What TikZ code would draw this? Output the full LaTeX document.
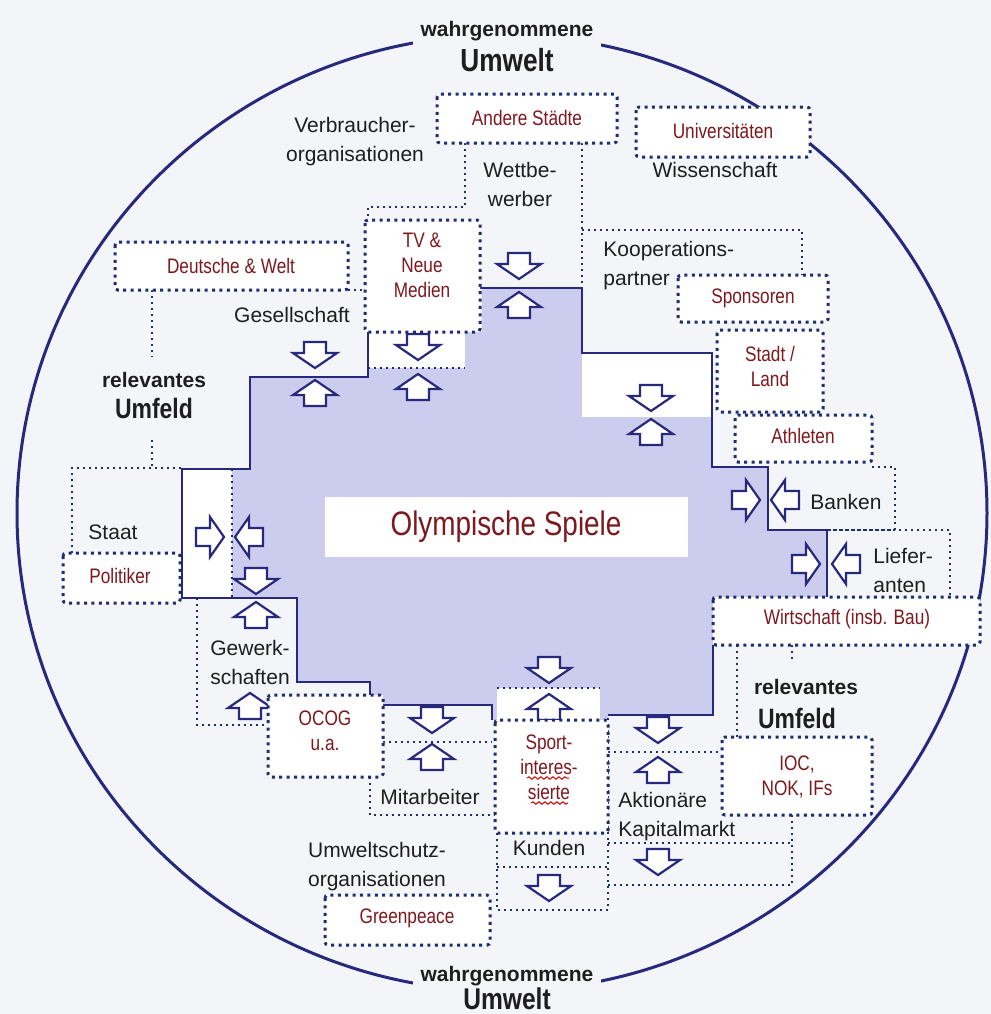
\documentclass[tikz,border=0pt]{standalone}
\usepackage{fontspec}
\setmainfont{Liberation Sans}
\newfontfamily\narrowsf{Liberation Sans}[FakeStretch=0.82]
\usetikzlibrary{positioning,decorations.pathmorphing}

\definecolor{navy}{RGB}{40,40,125}
\definecolor{dotblue}{RGB}{30,45,110}
\definecolor{labred}{RGB}{125,25,30}
\definecolor{lav}{RGB}{204,204,238}
\definecolor{paper}{RGB}{244,245,249}
\definecolor{ink}{RGB}{30,30,30}

\begin{document}
\begin{tikzpicture}[
  x=0.5pt, y=-0.5pt,
  lab/.style={font=\fontsize{10.5}{14.5}\selectfont, text=ink, align=center, inner sep=0pt},
  redlab/.style={font=\narrowsf\fontsize{10.5}{12.5}\selectfont, text=labred, align=center, inner sep=0pt},
  outer/.style={font=\bfseries\fontsize{10.5}{12}\selectfont, text=ink, fill=paper, inner xsep=4pt, inner ysep=3pt},
  bigword/.style={font=\narrowsf\bfseries\fontsize{14}{16}\selectfont, text=ink, inner sep=1pt},
  edgeline/.style={draw=navy, line width=1.3pt},
  thindots/.style={draw=dotblue, line width=1pt, dash pattern=on 1pt off 2pt},
  boxdots/.style={draw=dotblue, line width=1.5pt, dash pattern=on 1.5pt off 2.2pt, fill=white, rounded corners=1.5pt},
  arrowline/.style={draw=navy, fill=white, line width=1.1pt, line join=miter},
  dnarr/.pic={\path[arrowline] (-11,-13) -- (11,-13) -- (11,-2) -- (22,-2) -- (0,13)
    -- (-22,-2) -- (-11,-2) -- cycle;},
  uparr/.pic={\path[arrowline] (-11,13) -- (11,13) -- (11,2) -- (22,2) -- (0,-13)
    -- (-22,2) -- (-11,2) -- cycle;},
  rtarr/.pic={\path[arrowline] (-14,-9) -- (0,-9) -- (0,-20) -- (14,0) -- (0,20)
    -- (0,9) -- (-14,9) -- cycle;},
  ltarr/.pic={\path[arrowline] (14,-9) -- (0,-9) -- (0,-20) -- (-14,0) -- (0,20)
    -- (0,9) -- (14,9) -- cycle;}
]

% page and frame
\fill[paper] (0,0) rectangle (991,1014);
\draw[navy, line width=1.5pt] (502,513) ellipse [x radius=485, y radius=478];

% shaded core
\fill[lav] (482,288) -- (582,288) -- (582,417) -- (712,417) -- (712,467) -- (768,467)
  -- (768,530) -- (827,530) -- (827,620) -- (713,620) -- (713,715) -- (608,715)
  -- (608,720) -- (492,720) -- (492,705) -- (383,705) -- (383,695) -- (370,695)
  -- (370,682) -- (297,682) -- (297,598) -- (182,598) -- (182,469) -- (250,469)
  -- (250,377) -- (368,377) -- (368,332) -- (482,332) -- cycle;
\fill[white] (582,353) rectangle (712,417);
\fill[white] (368,332) rectangle (465,368);
\fill[white] (182,469) rectangle (232,598);
\fill[white] (497,688) rectangle (600,720);
\fill[white] (325,497) rectangle (688,557);

% region borders
\draw[edgeline] (368,332) -- (368,377) -- (250,377) -- (250,469) -- (182,469) -- (182,598)
  -- (297,598) -- (297,682) -- (370,682) -- (370,695);
\draw[edgeline] (383,705) -- (492,705) -- (492,720);
\draw[edgeline] (608,715) -- (713,715) -- (713,645);
\draw[edgeline] (827,597) -- (827,530) -- (768,530) -- (768,467) -- (712,467) -- (712,353)
  -- (582,353) -- (582,288) -- (480,288);

\draw[thindots] (465,143) -- (465,207) -- (368,207) -- (368,220);
\draw[thindots] (582,143) -- (582,288);
\draw[thindots] (582,230) -- (802,230) -- (802,275);
\draw[thindots] (348,290) -- (365,290);
\draw[thindots] (152,290) -- (152,357);
\draw[thindots] (152,440) -- (152,468);
\draw[thindots] (72,553) -- (72,468) -- (182,468);
\draw[thindots] (368,368) -- (465,368);
\draw[thindots] (232,469) -- (232,598);
\draw[thindots] (197,598) -- (197,725) -- (268,725);
\draw[thindots] (383,742) -- (492,742);
\draw[thindots] (370,777) -- (370,815) -- (495,815);
\draw[thindots] (497,688) -- (600,688);
\draw[thindots] (497,833) -- (497,910) -- (608,910) -- (608,715);
\draw[thindots] (497,867) -- (608,867);
\draw[thindots] (608,752) -- (722,752);
\draw[thindots] (608,843) -- (792,843);
\draw[thindots] (792,815) -- (792,885) -- (608,885);
\draw[thindots] (737,645) -- (737,737);
\draw[thindots] (792,645) -- (792,662);
\draw[thindots] (872,467) -- (895,467) -- (895,530) -- (827,530);
\draw[thindots] (827,530) -- (950,530) -- (950,597);

% exchange arrows
\pic (dGes) at (315,355) {dnarr};
\pic (uGes) at (315,393) {uparr};
\pic (dTV) at (418,347) {dnarr};
\pic (uTV) at (418,387) {uparr};
\pic (dWet) at (519,266) {dnarr};
\pic (uWet) at (519,305) {uparr};
\pic (dKoop) at (651,398) {dnarr};
\pic (uKoop) at (651,432) {uparr};
\pic (rBank) at (746,500) {rtarr};
\pic (lBank) at (785,500) {ltarr};
\pic (rLief) at (806,564) {rtarr};
\pic (lLief) at (846,564) {ltarr};
\pic (rStaat) at (210,537) {rtarr};
\pic (lStaat) at (249,537) {ltarr};
\pic (dGew) at (256,581) {dnarr};
\pic (uGew) at (256,615) {uparr};
\pic (uGew2) at (250,706) {uparr};
\pic (dMit) at (432,720) {dnarr};
\pic (uMit) at (432,757) {uparr};
\pic (dSport) at (549,670) {dnarr};
\pic (uSport) at (549,707) {uparr};
\pic (dKund) at (549,888) {dnarr};
\pic (dAkt) at (658,730) {dnarr};
\pic (uAkt) at (658,770) {uparr};
\pic (dKap) at (658,862) {dnarr};

% stakeholder boxes
\draw[boxdots] (437,94) rectangle (617,143);
\draw[boxdots] (636,107) rectangle (810,157);
\draw[boxdots] (115,242) rectangle (348,290);
\draw[boxdots] (365,220) rectangle (480,332);
\draw[boxdots] (678,275) rectangle (828,322);
\draw[boxdots] (717,330) rectangle (823,412);
\draw[boxdots] (735,415) rectangle (872,462);
\draw[boxdots] (713,597) rectangle (980,645);
\draw[boxdots] (722,737) rectangle (872,815);
\draw[boxdots] (495,720) rectangle (608,833);
\draw[boxdots] (325,895) rectangle (490,945);
\draw[boxdots] (268,695) rectangle (383,777);
\draw[boxdots] (63,553) rectangle (180,603);

\node[redlab] (andere) at (527,118) {Andere Städte};
\node[redlab] (uni) at (723,131) {Universitäten};
\node[redlab] (deutsche) at (231,266) {Deutsche \& Welt};
\node[redlab] (tv) at (422,265) {TV \&\\Neue\\Medien};
\node[redlab] (sponsoren) at (753,298) {Sponsoren};
\node[redlab] (stadt) at (770,366) {Stadt /\\Land};
\node[redlab] (athleten) at (803,436) {Athleten};
\node[redlab] (wirtschaft) at (847,619) {Wirtschaft (insb. Bau)};
\node[redlab] (ioc) at (797,777) {IOC,\\NOK, IFs};
\node[redlab] (sport) at (549,767) {Sport-\\interes-\\sierte};
\node[redlab] (greenpeace) at (407,918) {Greenpeace};
\node[redlab] (ocog) at (325,731) {OCOG\\u.a.};
\node[redlab] (politiker) at (120,576) {Politiker};
\draw[red!85!black, line width=0.5pt, decorate, decoration={snake, amplitude=0.6pt, segment length=3pt}]
  (527,778) -- (569,778);
\draw[red!85!black, line width=0.5pt, decorate, decoration={snake, amplitude=0.6pt, segment length=3pt}]
  (531,803) -- (568,803);

\node[font=\narrowsf\fontsize{17}{19}\selectfont, text=labred] (olymp) at (506,527) {Olympische Spiele};

% group labels
\node[lab] (verbraucher) at (355,142) {Verbraucher-\\organisationen};
\node[lab] (wettbewerber) at (520,184) {Wettbe-\\werber};
\node[lab] (wissenschaft) at (715,170) {Wissenschaft};
\node[lab, align=left, anchor=west] (koop) at (603,266) {Kooperations-\\partner};
\node[lab] (gesellschaft) at (292,315) {Gesellschaft};
\node[lab] (staat) at (113,532) {Staat};
\node[lab] (gewerk) at (250,662) {Gewerk-\\schaften};
\node[lab] (mitarbeiter) at (430,797) {Mitarbeiter};
\node[lab] (umweltschutz) at (377,867) {Umweltschutz-\\organisationen};
\node[lab] (kunden) at (549,848) {Kunden};
\node[lab, align=left, anchor=west] (aktionaere) at (618,817) {Aktionäre\\Kapitalmarkt};
\node[lab] (banken) at (846,502) {Banken};
\node[lab, align=left, anchor=west] (lieferanten) at (873,570) {Liefer-\\anten};

\node[outer, fill=none, inner sep=0pt] (relL) at (154,380) {relevantes};
\node[bigword] (umfL) at (154,408) {Umfeld};
\node[outer, fill=none, inner sep=0pt] (relR) at (806,687) {relevantes};
\node[bigword] (umfR) at (797,718) {Umfeld};

% perceived environment
\node[outer] (wahrTop) at (507,31) {wahrgenommene};
\node[bigword, font=\narrowsf\bfseries\fontsize{16}{18}\selectfont] (umwTop) at (507,60) {Umwelt};
\node[outer, inner ysep=5pt] (wahrBot) at (507,976) {wahrgenommene};
\node[bigword, fill=paper, inner xsep=8pt, font=\narrowsf\bfseries\fontsize{15}{17}\selectfont] (umwBot) at (507,999) {Umwelt};

\end{tikzpicture}
\end{document}
